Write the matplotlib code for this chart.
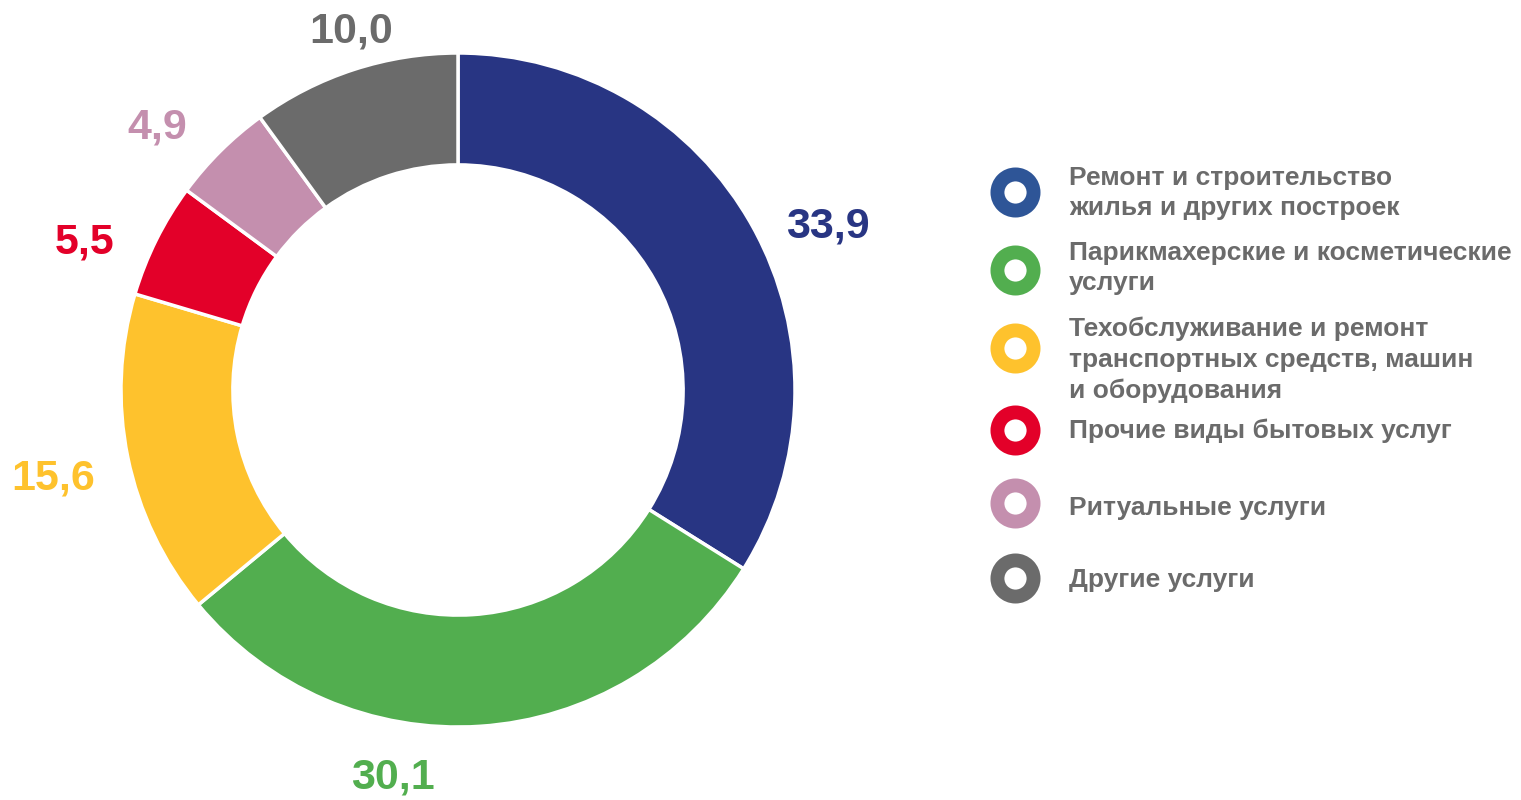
import matplotlib.pyplot as plt

plt.rcParams['font.family'] = ['Liberation Sans', 'DejaVu Sans']

categories = [
    'Ремонт и строительство\nжилья и других построек',
    'Парикмахерские и косметические\nуслуги',
    'Техобслуживание и ремонт\nтранспортных средств, машин\nи оборудования',
    'Прочие виды бытовых услуг',
    'Ритуальные услуги',
    'Другие услуги',
]
values = [33.9, 30.1, 15.6, 5.5, 4.9, 10.0]
value_labels = ['33,9', '30,1', '15,6', '5,5', '4,9', '10,0']
colors = ['#283583', '#52AE4F', '#FEC22D', '#E30029', '#C48FAE', '#6B6B6B']
legend_colors = ['#2E5597', '#52AE4F', '#FEC22D', '#E30029', '#C48FAE', '#6B6B6B']

# label positions in units of outer radius
label_pos = [(1.098, 0.484), (-0.193, -1.151), (-1.202, -0.264),
             (-1.107, 0.439), (-0.893, 0.780), (-0.318, 1.065)]

W, H = 1521, 800
fig = plt.figure(figsize=(W / 100, H / 100), dpi=100)

# donut axes: centre at (458, 390) px, radius 337 px
R = 337
lim = 1.3
side = 2 * lim * R
cx, cy = 458, H - 390
ax = fig.add_axes([(cx - side / 2) / W, (cy - side / 2) / H, side / W, side / H])
ax.pie(values, colors=colors, startangle=90, counterclock=False,
       radius=1.0, wedgeprops=dict(width=0.332, edgecolor='white', linewidth=2.5))
ax.set_xlim(-lim, lim)
ax.set_ylim(-lim, lim)
ax.set_aspect('equal')
ax.axis('off')

for (x, y), lab, c in zip(label_pos, value_labels, colors):
    ax.text(x, y, lab, color=c, fontsize=31, fontweight='bold',
            ha='center', va='center', clip_on=False)

# legend drawn in pixel coordinates
lax = fig.add_axes([0, 0, 1, 1])
lax.set_xlim(0, W)
lax.set_ylim(H, 0)
lax.axis('off')
marker_y = [192, 270, 348, 430, 503, 578]
text_y = [193, 268, 360, 431, 508, 580]
for cat, c, my, ty in zip(categories, legend_colors, marker_y, text_y):
    lax.plot([1015], [my], marker='o', markersize=26, markerfacecolor='white',
             markeredgecolor=c, markeredgewidth=10, linestyle='none')
    lax.text(1069, ty, cat, color='#6B6B6B', fontsize=19, fontweight='bold',
             ha='left', va='center', linespacing=1.36)

fig.savefig('out.png', dpi=100)
